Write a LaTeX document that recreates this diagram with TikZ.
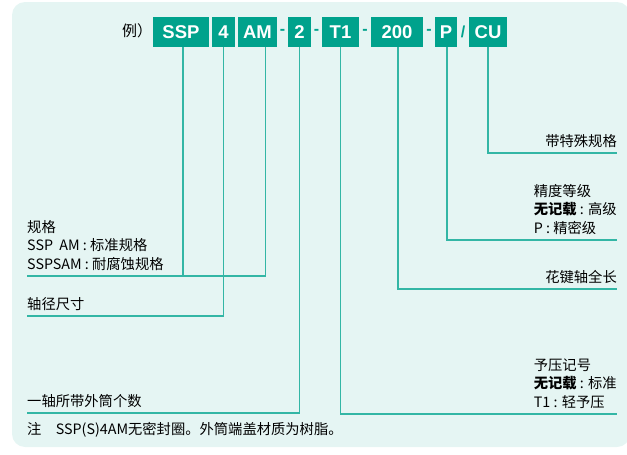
\documentclass[tikz,border=0pt]{standalone}
\usepackage{fontspec}
\setmainfont{Noto Sans CJK SC}
\newfontfamily\codefont{Liberation Sans}
\usetikzlibrary{positioning}
\definecolor{panelbg}{HTML}{E5F5F3}
\definecolor{codeteal}{HTML}{00A28C}
\definecolor{leadteal}{HTML}{33B6A5}

\begin{document}
\begin{tikzpicture}[x=1pt, y=-1pt,
    code/.style={fill=codeteal, text=white, inner sep=0pt, minimum height=30pt,
                 font=\codefont\bfseries\fontsize{18.5}{18.5}\selectfont},
    sep/.style={text=codeteal, inner sep=0pt, font=\codefont\bfseries\fontsize{16}{16}\selectfont},
    lead/.style={draw=leadteal, line width=1.6pt},
    lbl/.style={inner sep=0pt, align=left, font=\fontsize{14.3}{18.7}\selectfont}
  ]
  \useasboundingbox (0,0) rectangle (627,455);
  \fill[panelbg, rounded corners=13pt] (12,2) rectangle (630,447);

  % code boxes
  \node[font=\fontsize{15}{15}\selectfont, inner sep=0pt] (ex) at (137,31) {例）};
  \node[code, minimum width=56pt] (ssp) at (181,32)   {SSP};
  \node[code, minimum width=23pt] (dia) at (223.5,32) {4};
  \node[code, minimum width=39pt] (am)  at (257.5,32) {AM};
  \node[sep] at (282.5,32) {-};
  \node[code, minimum width=23pt] (num) at (299.5,32) {2};
  \node[sep] at (316.5,32) {-};
  \node[code, minimum width=37pt] (pre) at (340.5,32) {T1};
  \node[sep] at (365,32) {-};
  \node[code, minimum width=52pt] (len) at (397,32)   {200};
  \node[sep] at (429,32) {-};
  \node[code, minimum width=22pt] (acc) at (446,32)   {P};
  \node[sep] at (463,32) {/};
  \node[code, minimum width=38pt] (cu)  at (488,32)   {CU};

  % line ends
  \coordinate (specL) at (27,276);
  \coordinate (diaL)  at (27,316);
  \coordinate (numL)  at (27,413);
  \coordinate (preR)  at (617,414);
  \coordinate (lenR)  at (617,289);
  \coordinate (accR)  at (617,240);
  \coordinate (cuR)   at (617,153);

  % leaders
  \draw[lead] ([xshift=2pt]ssp.south) -- ([xshift=2pt]ssp.south |- specL);
  \draw[lead] ([xshift=8pt]am.south)  |- (specL);
  \draw[lead] (dia.south) |- (diaL);
  \draw[lead] (num.south) |- (numL);
  \draw[lead] (pre.south) |- (preR);
  \draw[lead] ([xshift=1pt]len.south) |- (lenR);
  \draw[lead] ([xshift=1pt]acc.south) |- (accR);
  \draw[lead] (cu.south)  |- (cuR);

  % texts
  \node[lbl, anchor=south west] (spect) at ([yshift=5pt]specL)
    {规格\\SSP\ \ AM : 标准规格\\SSPSAM : 耐腐蚀规格};
  \node[lbl, anchor=south west] (diat) at ([yshift=5pt]diaL) {轴径尺寸};
  \node[lbl, anchor=south west] (numt) at ([yshift=5pt]numL) {一轴所带外筒个数};
  \node[lbl, anchor=south east] (pret) at ([yshift=5pt]preR)
    {予压记号\\\textbf{无记载} : 标准\\T1 : 轻予压};
  \node[lbl, anchor=south east] (lent) at ([yshift=5pt]lenR) {花键轴全长};
  \node[lbl, anchor=south east] (acct) at ([yshift=5pt]accR)
    {精度等级\\\textbf{无记载} : 高级\\P : 精密级};
  \node[lbl, anchor=south east] (cut) at ([yshift=5pt]cuR) {带特殊规格};
  \node[lbl, anchor=west] (note) at (27,430)
    {注\quad SSP(S)4AM无密封圈。外筒端盖材质为树脂。};
\end{tikzpicture}
\end{document}
